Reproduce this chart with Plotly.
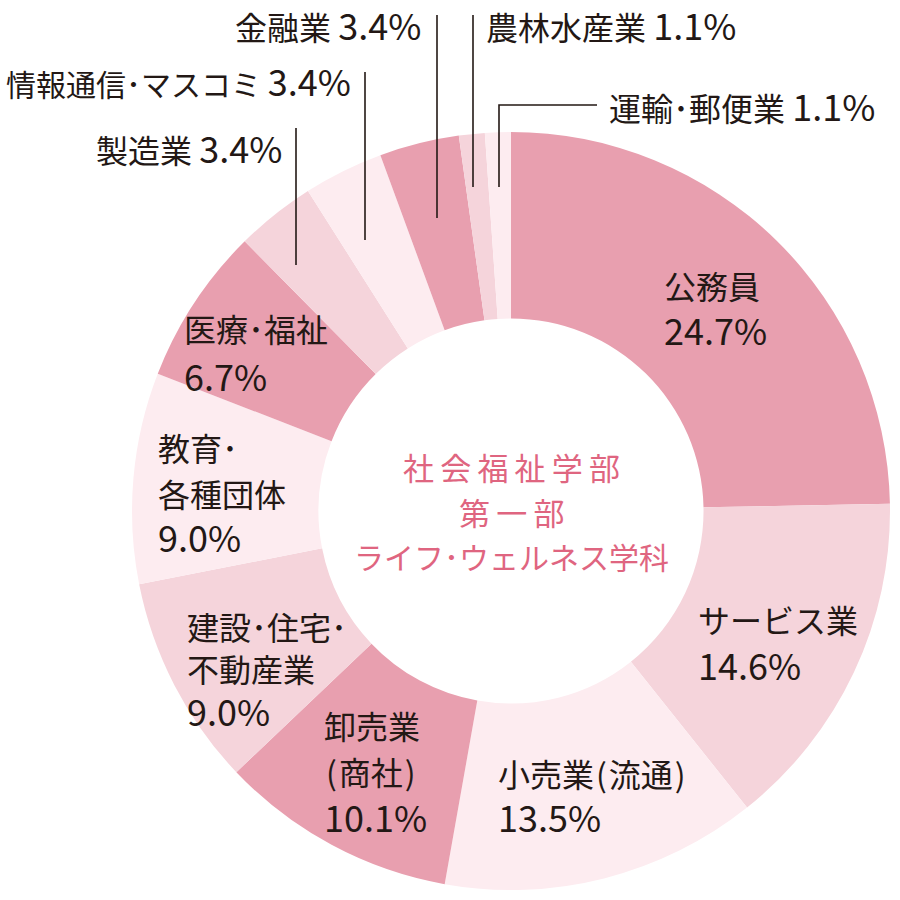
import plotly.graph_objects as go

categories = ["公務員", "サービス業", "小売業(流通)", "卸売業<br>(商社)", "建設･住宅･<br>不動産業",
              "教育･<br>各種団体", "医療･福祉", "製造業", "情報通信･マスコミ", "金融業",
              "農林水産業", "運輸･郵便業"]
values = [24.7, 14.6, 13.5, 10.1, 9.0, 9.0, 6.7, 3.4, 3.4, 3.4, 1.1, 1.1]
center_title = ["社会福祉学部", "第一部", "ライフ･ウェルネス学科"]

DARK, MID, LIGHT = "#E89FAF", "#F5D4DB", "#FDECF0"
colors = [DARK, MID, LIGHT] * 4
TXT = "#231815"
FONT = "Noto Sans CJK JP"
PINK = "#DF6580"

W = H = 900
def P(x, y):
    return x / W, 1 - y / H

PS = 36
def pct(v, s=PS):
    return f'<span style="font-size:{s}px">{v:.1f}%</span>'

fig = go.Figure()
x0, y0 = P(131, 890)
x1, y1 = P(891, 132)
fig.add_trace(go.Pie(
    values=values, labels=[c.replace("<br>", "") for c in categories],
    sort=False, direction="clockwise", rotation=0, hole=0.508,
    marker=dict(colors=colors, line=dict(width=0)),
    textinfo="none", hoverinfo="label+percent", showlegend=False,
    domain=dict(x=[x0, x1], y=[y0, y1]),
))

FS = 32
hs = "\u200a"
# index, left x, y of each line (name lines..., pct line)
inside = [
    (0, 663, [285, 329]),
    (1, 697, [619, 664]),
    (2, 497, [773, 816]),
    (3, 323, [725, 771, 816]),
    (4, 186, [626, 668, 710]),
    (5, 157, [447, 493, 536]),
    (6, 183, [328, 375]),
]
ann = []
def add(text, x, y, xa, size=FS, color=TXT):
    px, py = P(x, y)
    ann.append(dict(x=px, y=py, xref="paper", yref="paper", xanchor=xa, yanchor="middle",
                    showarrow=False, borderpad=0, text=text,
                    font=dict(family=FONT, size=size, color=color)))

for i, x, ys in inside:
    lines = categories[i].split("<br>") + [pct(values[i])]
    lines = [l.replace("(", hs + "(" + hs).replace(")", hs + ")") for l in lines]
    for t, y in zip(lines, ys):
        add(t, x, y, "left")

outside = [
    (7, 283, 147, "right", FS),
    (8, 352, 80, "right", 30),
    (9, 422, 24, "right", FS),
    (10, 485, 24, "left", FS),
    (11, 608, 105, "left", FS),
]
for i, x, y, xa, s in outside:
    add(f"{categories[i]} {pct(values[i])}", x, y, xa, size=s)

thin = "\u2009"
center_lines = [
    (thin.join(center_title[0]), 466, 31),
    (thin.join(center_title[1]), 511, 31),
    (center_title[2], 556, 30),
]
for t, y, s in center_lines:
    add(t, 511, y, "center", size=s, color=PINK)

shapes = []
leaders = [
    [(296, 128), (296, 265)],
    [(365, 72), (365, 240)],
    [(437, 15), (437, 218)],
    [(473, 15), (473, 187)],
    [(597, 105), (499, 105), (499, 187)],
]
for pts in leaders:
    path = ""
    for k, (x, y) in enumerate(pts):
        path += ("M" if k == 0 else "L") + f" {x} {H - y} "
    shapes.append(dict(type="path", xref="x", yref="y", path=path,
                       line=dict(color=TXT, width=1.6)))

fig.update_layout(
    width=W, height=H, margin=dict(l=0, r=0, t=0, b=0),
    paper_bgcolor="white", plot_bgcolor="rgba(0,0,0,0)",
    annotations=ann, shapes=shapes,
    xaxis=dict(range=[0, W], visible=False, fixedrange=True),
    yaxis=dict(range=[0, H], visible=False, fixedrange=True),
    font=dict(family=FONT),
)
fig.write_html("out.html")
